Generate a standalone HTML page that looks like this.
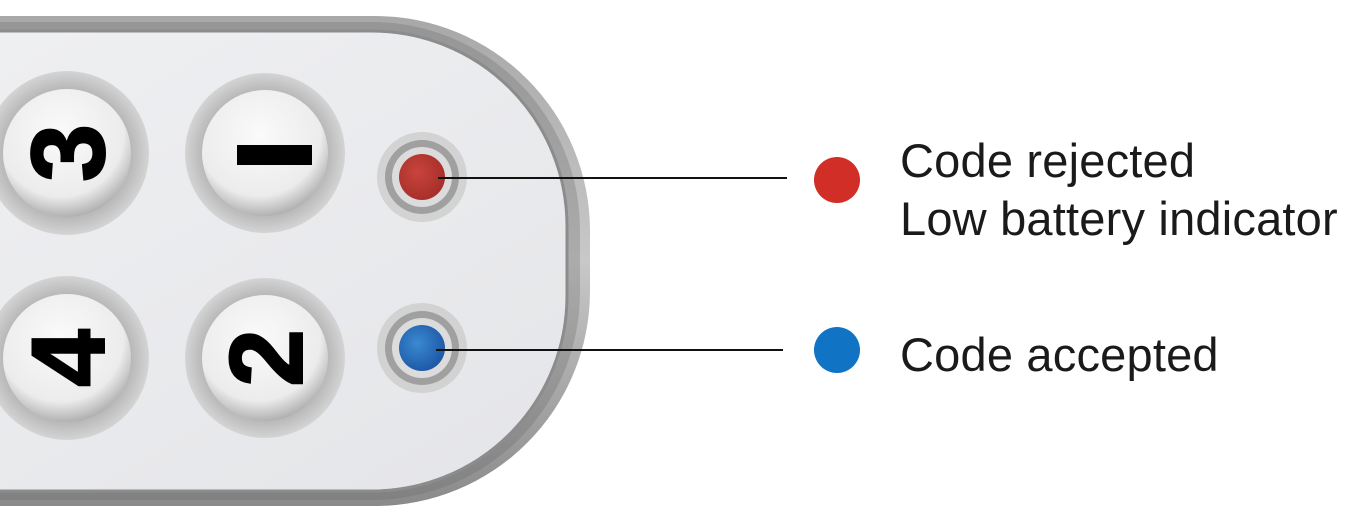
<!DOCTYPE html>
<html><head><style>
body{margin:0;width:1352px;height:520px;background:#fff;overflow:hidden;position:relative;font-family:"Liberation Sans",sans-serif}
.t{position:absolute;left:900px;font-size:47px;color:#1a1a1a;white-space:nowrap;line-height:1;letter-spacing:0.2px}
</style></head><body>
<svg width="1352" height="520" style="position:absolute;left:0;top:0">
<defs>
<linearGradient id="body" x1="0" y1="0" x2="0" y2="1">
<stop offset="0" stop-color="#a8a8a8"/><stop offset="0.5" stop-color="#c8c8c8"/><stop offset="1" stop-color="#8a8a8a"/></linearGradient>
<linearGradient id="panel" x1="0" y1="0" x2="1" y2="1">
<stop offset="0" stop-color="#f0f1f3"/><stop offset="1" stop-color="#e4e5e8"/></linearGradient>
<radialGradient id="btn" cx="0.45" cy="0.35" r="0.7">
<stop offset="0" stop-color="#fafafa"/><stop offset="0.7" stop-color="#ececec"/><stop offset="1" stop-color="#a0a0a0"/></radialGradient>
<radialGradient id="ring" cx="0.5" cy="0.5" r="0.5">
<stop offset="0.75" stop-color="#b4b4b4"/><stop offset="1" stop-color="#d4d4d4"/></radialGradient>
<radialGradient id="red" cx="0.4" cy="0.4" r="0.6"><stop offset="0" stop-color="#c8443c"/><stop offset="1" stop-color="#a8302a"/></radialGradient>
<radialGradient id="blue" cx="0.4" cy="0.4" r="0.6"><stop offset="0" stop-color="#3a8ad0"/><stop offset="1" stop-color="#1f5aa8"/></radialGradient>
</defs>
<rect x="-220" y="16" width="810" height="490" rx="215" fill="url(#body)"/>
<rect x="-220" y="22" width="800" height="478" rx="208" fill="#6a6a6a" opacity="0.3"/>
<rect x="-220" y="31" width="787" height="460" rx="195" fill="url(#panel)" stroke="#8c8c8c" stroke-width="3"/>
<g>
<circle cx="67" cy="153" r="82" fill="url(#ring)"/><circle cx="67" cy="153" r="64" fill="url(#btn)"/>
<circle cx="265" cy="153" r="80" fill="url(#ring)"/><circle cx="265" cy="153" r="63" fill="url(#btn)"/>
<circle cx="67" cy="358" r="82" fill="url(#ring)"/><circle cx="67" cy="358" r="64" fill="url(#btn)"/>
<circle cx="265" cy="358" r="80" fill="url(#ring)"/><circle cx="265" cy="358" r="63" fill="url(#btn)"/>
</g>
<g font-family="Liberation Sans, sans-serif" font-weight="bold" font-size="104" fill="#000" text-anchor="middle" stroke="#000" stroke-width="2">
<text transform="translate(67,153) rotate(-90)" y="37">3</text>
<text transform="translate(67,358) rotate(-90)" y="37">4</text>
<text transform="translate(265,358) rotate(-90)" y="37">2</text>
</g>
<rect x="237" y="145" width="75" height="20" fill="#000"/>
<circle cx="422" cy="177" r="45" fill="#c9c9c9" opacity="0.7"/>
<circle cx="422" cy="177" r="37" fill="#a0a0a0"/><circle cx="422" cy="177" r="30" fill="#dcdcdc"/>
<circle cx="422" cy="177" r="23" fill="url(#red)"/>
<circle cx="422" cy="348" r="45" fill="#c9c9c9" opacity="0.7"/>
<circle cx="422" cy="348" r="37" fill="#a0a0a0"/><circle cx="422" cy="348" r="30" fill="#dcdcdc"/>
<circle cx="422" cy="348" r="23" fill="url(#blue)"/>
<line x1="438" y1="178" x2="787" y2="178" stroke="#111" stroke-width="2"/>
<line x1="436" y1="350" x2="783" y2="350" stroke="#111" stroke-width="2"/>
<circle cx="837" cy="180" r="23" fill="#d12e27"/>
<circle cx="837" cy="350" r="23" fill="#1173c4"/>
</svg>
<div class="t" style="top:137px">Code rejected</div>
<div class="t" style="top:195px">Low battery indicator</div>
<div class="t" style="top:331px">Code accepted</div>
</body></html>
